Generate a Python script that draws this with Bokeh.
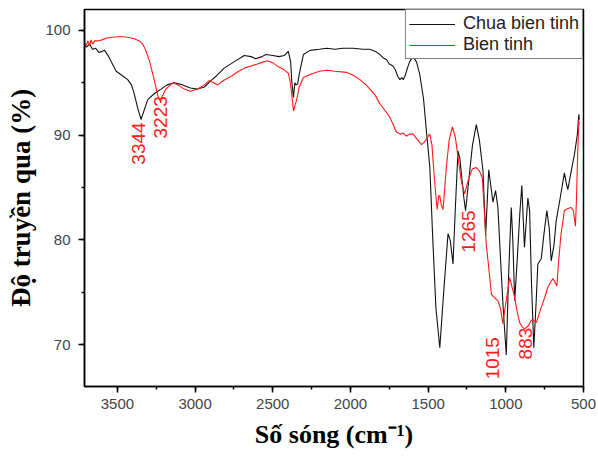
from bokeh.plotting import figure
from bokeh.models import Range1d, SingleIntervalTicker, ColumnDataSource
from bokeh.core.properties import value
from bokeh.embed import file_html
from bokeh.resources import INLINE
import math

# Chua bien tinh (unmodified) - wavenumber (cm-1), transmittance (%)
wn_raw = [3712, 3700, 3680, 3660, 3640, 3620, 3600, 3583, 3560, 3540, 3508, 3470, 3434, 3410,
          3391, 3370, 3348, 3330, 3305, 3260, 3219, 3180, 3134, 3080, 3030, 2984, 2940, 2898,
          2860, 2813, 2750, 2684, 2640, 2609, 2570, 2545, 2500, 2460, 2427, 2400, 2385, 2378,
          2367, 2358, 2350, 2340, 2330, 2303, 2260, 2200, 2153, 2100, 2050, 1982, 1920, 1875,
          1840, 1811, 1790, 1768, 1750, 1726, 1710, 1695, 1682, 1670, 1661, 1650, 1640, 1620,
          1597, 1575, 1554, 1530, 1511, 1489, 1470, 1450, 1425, 1400, 1372, 1357, 1340, 1325,
          1308, 1296, 1286, 1270, 1259, 1240, 1215, 1190, 1170, 1147, 1130, 1110, 1095, 1083,
          1066, 1051, 1030, 1015, 997, 982, 965, 955, 943, 925, 910, 897, 888, 880, 858, 847,
          835, 820, 805, 794, 772, 755, 736, 720, 708, 690, 676, 650, 623, 612, 601, 580, 558,
          540, 530, 527]
t_raw = [98.7, 98.4, 98.7, 98.2, 98.3, 97.9, 98.0, 98.1, 97.6, 97.0, 96.1, 95.7, 95.3, 94.8,
         93.9, 92.6, 91.5, 92.3, 93.4, 94.0, 94.4, 94.8, 95.0, 94.8, 94.5, 94.4, 94.6, 95.2,
         95.7, 96.4, 97.0, 97.6, 97.5, 97.3, 97.5, 97.7, 97.6, 97.5, 97.6, 98.0, 97.0, 95.2,
         93.6, 95.0, 94.8, 94.9, 95.8, 97.7, 98.1, 98.2, 98.3, 98.2, 98.3, 98.3, 98.2, 98.2,
         98.0, 97.7, 97.4, 97.2, 96.8, 96.6, 96.2, 95.6, 95.3, 95.5, 95.3, 95.6, 96.1, 97.0,
         97.5, 97.0, 95.8, 93.5, 90.4, 86.9, 80.0, 73.5, 69.7, 75.0, 80.6, 79.9, 77.7, 83.0,
         88.5, 87.8, 86.3, 84.0, 82.8, 85.5, 89.0, 91.0, 89.5, 86.6, 80.4, 86.7, 85.0, 83.6,
         84.7, 83.1, 77.0, 73.0, 69.0, 76.7, 83.1, 80.0, 74.2, 78.5, 82.5, 85.2, 82.0, 79.3,
         84.0, 82.8, 76.0, 69.7, 74.0, 77.7, 78.2, 80.5, 82.8, 81.0, 78.0, 79.5, 81.8, 84.0,
         86.4, 85.5, 84.8, 86.5, 88.2, 90.0, 92.0, 91.5]

# Bien tinh (modified)
wn_mod = [3712, 3700, 3690, 3680, 3670, 3660, 3645, 3627, 3600, 3562, 3500, 3455, 3420, 3391,
          3360, 3337, 3315, 3294, 3262, 3237, 3224, 3205, 3188, 3145, 3110, 3070, 3030, 2984,
          2940, 2910, 2880, 2855, 2820, 2770, 2720, 2684, 2640, 2599, 2560, 2534, 2500, 2460,
          2432, 2400, 2389, 2375, 2367, 2358, 2346, 2330, 2303, 2260, 2200, 2153, 2100, 2025,
          1980, 1939, 1900, 1875, 1840, 1811, 1780, 1746, 1725, 1704, 1680, 1660, 1640, 1620,
          1597, 1570, 1543, 1520, 1500, 1489, 1475, 1468, 1455, 1442, 1432, 1425, 1415, 1404,
          1393, 1383, 1365, 1344, 1325, 1308, 1285, 1265, 1240, 1215, 1190, 1170, 1151, 1126,
          1104, 1093, 1075, 1051, 1035, 1019, 1008, 997, 976, 960, 943, 925, 911, 895, 879,
          855, 837, 825, 815, 804, 780, 750, 729, 710, 697, 685, 671, 660, 645, 623, 600, 580,
          565, 552, 545, 538, 530, 527]
t_mod = [98.8, 98.6, 99.0, 98.5, 99.1, 98.7, 99.0, 99.0, 99.1, 99.3, 99.4, 99.4, 99.3, 99.2,
         99.0, 98.7, 98.0, 97.1, 95.2, 93.6, 93.4, 93.9, 94.4, 95.0, 94.8, 94.4, 94.2, 94.4,
         94.8, 95.2, 95.0, 94.8, 95.2, 95.6, 96.1, 96.4, 96.6, 96.8, 97.0, 97.1, 96.9, 96.5,
         96.3, 95.9, 95.2, 93.5, 92.3, 92.8, 93.4, 94.6, 95.5, 95.8, 96.1, 96.2, 96.1, 96.0,
         95.7, 95.3, 94.8, 94.4, 93.8, 93.0, 92.4, 91.7, 91.0, 90.3, 90.1, 90.2, 89.9, 90.1,
         90.1, 89.6, 89.1, 89.4, 89.9, 90.1, 89.0, 87.5, 85.0, 82.9, 84.2, 84.2, 83.3, 82.9,
         85.0, 86.9, 89.5, 90.8, 89.8, 87.9, 85.5, 84.4, 85.8, 86.8, 86.9, 86.6, 85.9, 79.6,
         76.5, 74.8, 74.5, 74.2, 73.5, 72.0, 73.2, 74.2, 76.4, 75.5, 74.5, 73.0, 72.1, 71.7,
         71.5, 71.8, 72.3, 72.4, 72.2, 72.1, 73.2, 74.5, 75.5, 76.0, 76.3, 76.0, 75.6, 78.0,
         80.5, 82.8, 83.0, 83.1, 82.8, 81.3, 84.0, 88.0, 91.4, 91.0]

# Peak annotations
ann_text = ["3344", "3223", "1265", "1015", "883"]
ann_x = [3362, 3224, 1242, 1085, 876]
ann_y = [89.2, 91.7, 80.8, 68.7, 70.1]

p = figure(width=598, height=456, output_backend="svg", toolbar_location=None,
           x_range=Range1d(3712, 500), y_range=Range1d(66, 102),
           min_border_left=84, min_border_right=15, min_border_top=9, min_border_bottom=70)

p.line(wn_raw, t_raw, line_color="#111111", line_width=1.1, legend_label="Chua bien tinh")
p.line(wn_mod, t_mod, line_color="#ff1a1a", line_width=1.1, legend_label="Bien tinh")

src = ColumnDataSource(dict(x=ann_x, y=ann_y, t=ann_text))
p.text(x="x", y="y", text="t", source=src, angle=math.pi / 2, text_align="center",
       text_baseline="middle", text_color="#ff1a1a", text_font=value("Liberation Sans"),
       text_font_size="19px")

p.grid.visible = False
p.outline_line_color = "black"
p.outline_line_width = 1.5
p.outline_line_alpha = 1.0
p.background_fill_color = "white"
p.border_fill_color = "white"

p.xaxis.ticker = SingleIntervalTicker(interval=500, num_minor_ticks=2)
p.yaxis.ticker = SingleIntervalTicker(interval=10, num_minor_ticks=2)

for ax in (p.xaxis[0], p.yaxis[0]):
    ax.axis_line_color = "black"
    ax.axis_line_width = 1.5
    ax.major_tick_line_color = "black"
    ax.major_tick_line_width = 1.5
    ax.minor_tick_line_color = "black"
    ax.minor_tick_line_width = 1.5
    ax.major_tick_out = 6
    ax.major_tick_in = 0
    ax.minor_tick_out = 3
    ax.minor_tick_in = 0
    ax.major_label_text_font = "Liberation Sans"
    ax.major_label_text_font_size = "15px"
    ax.major_label_text_color = "#444444"
    ax.axis_label_text_font = "Liberation Serif"
    ax.axis_label_text_font_style = "bold"
    ax.axis_label_text_color = "black"

p.xaxis.axis_label = "Số sóng (cm⁻¹)"
p.yaxis.axis_label = "Độ truyền qua (%)"
p.xaxis.axis_label_text_font_size = "26px"
p.yaxis.axis_label_text_font_size = "27px"
p.xaxis.major_label_standoff = 6
p.yaxis.major_label_standoff = 8
p.xaxis.axis_label_standoff = 8
p.yaxis.axis_label_standoff = 6

lg = p.legend[0]
lg.location = "top_right"
lg.margin = 0
lg.padding = 3
lg.spacing = 0
lg.label_height = 20
lg.glyph_height = 20
lg.glyph_width = 46
lg.label_standoff = 8
lg.label_text_font = "Liberation Sans"
lg.label_text_font_size = "18px"
lg.label_text_color = "#222222"
lg.border_line_color = "black"
lg.border_line_width = 1.5
lg.background_fill_color = "white"
lg.background_fill_alpha = 1.0

open("out.html", "w").write(file_html(p, INLINE))
